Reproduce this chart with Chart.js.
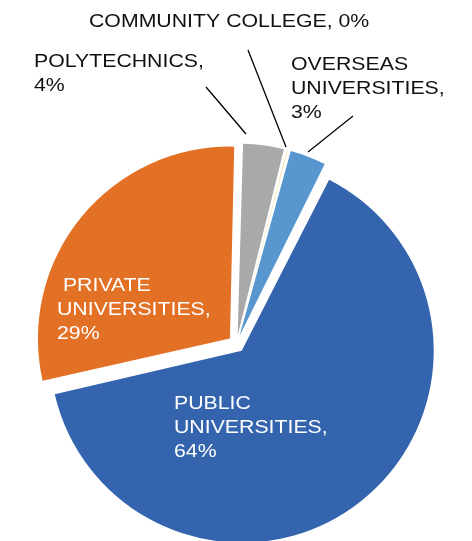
<!DOCTYPE html>
<html>
<head>
<meta charset="utf-8">
<script src="https://cdn.jsdelivr.net/npm/chart.js@4.4.1/dist/chart.umd.min.js"></script>
<style>
  html, body { margin: 0; padding: 0; background: #ffffff; }
  #wrap { width: 472px; height: 541px; position: relative; }
</style>
</head>
<body>
<div id="wrap"><canvas id="c" width="472" height="541"></canvas></div>
<script>
// ---- Data ----
const categories = ['POLYTECHNICS', 'COMMUNITY COLLEGE', 'OVERSEAS UNIVERSITIES', 'PUBLIC UNIVERSITIES', 'PRIVATE UNIVERSITIES'];
const shares = [3.6, 0.25, 3.2, 64.1, 28.9];
const shareLabels = ['4%', '0%', '3%', '64%', '29%'];
const colors = ['#A9A9A9', '#F2B31B', '#5896D0', '#3464AE', '#E37125'];

const EXPLODE = 34;   // Chart.js draws offset/4 px of explosion
const BASE_R = 183.5;

// ---- Label layout (annotation positions, baseline of first line) ----
const labelLayout = [
  { lines: ['POLYTECHNICS,', '4%'], x: 34, y: 67, color: '#111111', leader: [[206, 87], [246, 134]] },
  { lines: ['COMMUNITY COLLEGE, 0%'], x: 89, y: 27, color: '#111111', leader: [[248, 50], [286, 147]] },
  { lines: ['OVERSEAS', 'UNIVERSITIES,', '3%'], x: 291, y: 70, color: '#111111', leader: [[353, 116], [308, 152]] },
  { lines: ['PUBLIC', 'UNIVERSITIES,', '64%'], x: 174, y: 409, color: '#ffffff' },
  { lines: [' PRIVATE', 'UNIVERSITIES,', '29%'], x: 57, y: 291, color: '#ffffff' }
];

// Equalise radii: Chart.js grows exploded arcs by offset*(1 - sin(circumference)).
const equalRadius = {
  id: 'equalRadius',
  afterDatasetUpdate(chart, args) {
    const meta = chart.getDatasetMeta(args.index);
    meta.data.forEach(arc => {
      const circ = arc.circumference || 0;
      const fix = 1 - Math.sin(Math.min(Math.PI, circ));
      arc.outerRadius = BASE_R + (EXPLODE / 4) * (1 - fix);
    });
  }
};

const labelPlugin = {
  id: 'pieLabels',
  afterDraw(chart) {
    const ctx = chart.ctx;
    ctx.save();
    labelLayout.forEach(l => {
      if (l.leader) {
        ctx.strokeStyle = '#000000';
        ctx.lineWidth = 1.3;
        ctx.beginPath();
        ctx.moveTo(l.leader[0][0], l.leader[0][1]);
        ctx.lineTo(l.leader[1][0], l.leader[1][1]);
        ctx.stroke();
      }
      ctx.fillStyle = l.color;
      ctx.font = '19px "Liberation Sans", Arial, sans-serif';
      ctx.textBaseline = 'alphabetic';
      ctx.textAlign = 'left';
      l.lines.forEach((t, i) => {
        ctx.save();
        ctx.translate(l.x, l.y + i * 24);
        ctx.scale(1.12, 1);
        ctx.fillText(t, 0, 0);
        ctx.restore();
      });
    });
    ctx.restore();
  }
};

new Chart(document.getElementById('c'), {
  type: 'pie',
  data: {
    labels: categories,
    datasets: [{
      data: shares,
      backgroundColor: colors,
      borderWidth: 0,
      offset: EXPLODE,
      radius: BASE_R
    }]
  },
  options: {
    responsive: false,
    animation: false,
    rotation: 1.3,
    layout: { padding: { top: 147, bottom: 0, left: 1, right: 0 } },
    plugins: {
      legend: { display: false },
      tooltip: { enabled: false }
    }
  },
  plugins: [equalRadius, labelPlugin]
});
</script>
</body>
</html>
